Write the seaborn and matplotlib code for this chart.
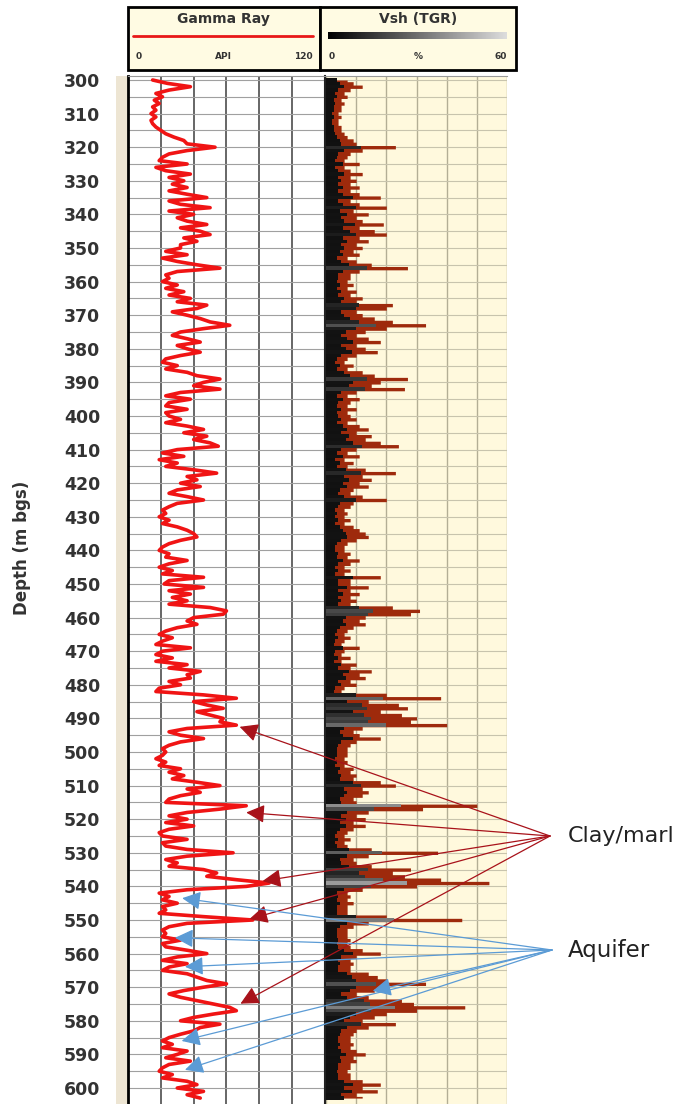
import numpy as np
import pandas as pd
import matplotlib
matplotlib.use("Agg")
import matplotlib.pyplot as plt
import seaborn as sns
from matplotlib.colors import LinearSegmentedColormap
from matplotlib.patches import Rectangle, ConnectionPatch
from matplotlib.ticker import MultipleLocator

# ---------------- data ----------------
depth = list(range(300, 604))

gamma_ray = [
    15, 24, 38, 25, 17, 21, 16, 19, 15, 17,
    14, 17, 14, 15, 17, 20, 23, 28, 34, 36,
    53, 36, 25, 21, 19, 36, 17, 23, 38, 25,
    34, 27, 36, 25, 36, 48, 25, 32, 50, 25,
    40, 30, 36, 48, 32, 44, 50, 34, 42, 32,
    32, 23, 36, 21, 30, 42, 56, 30, 23, 25,
    21, 30, 23, 34, 25, 38, 30, 48, 42, 27,
    36, 44, 50, 62, 46, 32, 27, 36, 44, 30,
    36, 44, 32, 23, 21, 30, 23, 36, 42, 56,
    46, 40, 56, 32, 23, 38, 25, 23, 36, 23,
    25, 32, 23, 36, 46, 34, 48, 40, 50, 55,
    30, 21, 34, 19, 30, 23, 40, 54, 36, 42,
    32, 44, 30, 25, 36, 46, 30, 25, 21, 23,
    19, 25, 21, 30, 36, 40, 42, 32, 25, 21,
    19, 25, 23, 36, 25, 19, 27, 21, 46, 25,
    22, 46, 25, 38, 27, 36, 25, 50, 60, 58,
    40, 36, 42, 30, 23, 19, 27, 21, 17, 38,
    21, 17, 27, 17, 36, 25, 44, 36, 38, 25,
    32, 19, 17, 46, 66, 40, 48, 58, 42, 50,
    58, 56, 66, 36, 25, 32, 46, 32, 25, 21,
    23, 21, 17, 23, 19, 32, 25, 34, 27, 42,
    56, 36, 44, 32, 25, 23, 72, 56, 36, 25,
    36, 23, 40, 25, 19, 21, 36, 21, 23, 36,
    64, 36, 23, 30, 25, 46, 54, 48, 66, 86,
    72, 36, 19, 25, 21, 30, 21, 23, 19, 46,
    76, 36, 25, 21, 23, 21, 32, 21, 23, 36,
    48, 30, 21, 36, 25, 21, 36, 42, 48, 60,
    46, 34, 25, 32, 42, 52, 62, 66, 52, 40,
    32, 56, 44, 40, 32, 25, 21, 27, 21, 36,
    30, 23, 38, 25, 21, 19, 27, 21, 36, 42,
    30, 46, 36, 44,
]

vsh = [
    7, 9, 12, 8, 6, 7, 5, 6, 5, 5,
    4, 5, 4, 4, 5, 5, 6, 7, 9, 10,
    23, 12, 8, 7, 6, 11, 6, 8, 12, 8,
    10, 8, 11, 8, 11, 18, 8, 11, 20, 9,
    14, 10, 12, 19, 11, 16, 20, 11, 14, 10,
    12, 9, 11, 7, 10, 15, 27, 11, 8, 8,
    7, 9, 7, 10, 8, 12, 10, 22, 20, 10,
    12, 16, 22, 33, 20, 13, 10, 14, 18, 10,
    13, 17, 10, 7, 6, 9, 7, 12, 16, 27,
    18, 15, 26, 10, 7, 11, 8, 7, 10, 7,
    8, 10, 7, 11, 14, 10, 15, 13, 18, 24,
    10, 7, 11, 6, 9, 7, 13, 23, 12, 15,
    11, 14, 9, 8, 12, 20, 9, 8, 6, 7,
    6, 8, 6, 9, 11, 13, 14, 10, 7, 6,
    6, 8, 7, 11, 8, 6, 8, 6, 18, 8,
    8, 14, 8, 11, 8, 10, 8, 22, 31, 28,
    13, 11, 13, 9, 7, 6, 8, 6, 5, 11,
    6, 5, 8, 5, 10, 8, 15, 11, 13, 8,
    10, 6, 5, 20, 38, 14, 24, 27, 18, 25,
    30, 28, 40, 12, 9, 11, 18, 10, 8, 7,
    7, 7, 6, 7, 6, 9, 8, 10, 9, 18,
    23, 12, 14, 12, 9, 10, 50, 32, 14, 10,
    13, 9, 13, 9, 7, 6, 8, 6, 7, 15,
    37, 14, 9, 10, 15, 28, 22, 26, 38, 54,
    30, 12, 7, 8, 7, 9, 7, 7, 7, 20,
    45, 14, 9, 7, 7, 7, 8, 7, 8, 12,
    18, 10, 8, 9, 8, 8, 14, 17, 20, 33,
    20, 16, 10, 14, 25, 29, 46, 30, 20, 16,
    12, 23, 14, 10, 9, 8, 8, 9, 8, 10,
    13, 9, 10, 8, 8, 7, 8, 8, 12, 18,
    12, 17, 10, 12,
]

depth_ticks = list(range(300, 601, 10))
gr_ticks = [0, 20, 40, 60, 80, 100, 120]
vsh_ticks = [0, 10, 20, 30, 40, 50, 60]

clay_depth = [492.5, 518.0, 538.4, 549.7, 574.9]
clay_api = [68.0, 72.0, 82.0, 74.0, 68.5]
aquifer_depth = [543.5, 555.3, 563.9, 586.0, 594.6]
aquifer_api = [33.0, 28.6, 34.7, 32.7, 34.7]
aquifer_vsh_depth = [571.1]
aquifer_vsh_value = [15.5]

# ---------------- style ----------------
sns.set_theme(style="white")
plt.rcParams["font.family"] = ["DejaVu Sans"]

W, H = 698, 1104
fig = plt.figure(figsize=(W / 100, H / 100), dpi=100)
fig.patch.set_facecolor("white")


def fx(px):
    return px / W


def fy(py):
    return 1 - py / H


top_px = 76
d_top = 300 + (top_px - 80) / 3.36
d_bot = 300 + (H - 80) / 3.36
track_h = fy(top_px)

# beige depth strip
fig.add_artist(Rectangle((fx(116), 0), fx(128) - fx(116), track_h,
                         transform=fig.transFigure, facecolor="#EDE5D3",
                         edgecolor="none", zorder=0))

# ---------------- Gamma ray track ----------------
ax_gr = fig.add_axes([fx(128), 0, fx(325) - fx(128), track_h])
ax_gr.set_facecolor("white")
df = pd.DataFrame({"depth": depth, "gr": gamma_ray})
sns.lineplot(data=df, x="gr", y="depth", orient="y", estimator=None,
             color="#F01414", lw=2.6, ax=ax_gr, zorder=3)
ax_gr.set_xlim(0, 120)
ax_gr.set_ylim(d_bot, d_top)
ax_gr.set_xticks(gr_ticks)
ax_gr.set_xticklabels([])
ax_gr.set_yticks(depth_ticks)
ax_gr.yaxis.set_minor_locator(MultipleLocator(5))
ax_gr.set_yticklabels([str(d) for d in depth_ticks], fontsize=12.5,
                      fontweight="bold", color="#333333")
ax_gr.tick_params(axis="both", which="both", length=0)
ax_gr.tick_params(axis="y", pad=20)
ax_gr.set_axisbelow(True)
ax_gr.xaxis.grid(True, color="#5a5a5a", lw=1.3)
ax_gr.yaxis.grid(True, which="both", color="#a0a0a0", lw=0.8)
ax_gr.set_xlabel("")
ax_gr.set_ylabel("")
ax_gr.spines["bottom"].set_visible(False)
ax_gr.spines["left"].set_color("black")
ax_gr.spines["left"].set_linewidth(2.0)
ax_gr.spines["right"].set_color("#222222")
ax_gr.spines["right"].set_linewidth(1.5)
ax_gr.spines["top"].set_color("#999999")
ax_gr.spines["top"].set_linewidth(0.8)

# ---------------- Vsh track ----------------
ax_v = fig.add_axes([fx(326), 0, fx(507) - fx(326), track_h])
ax_v.set_facecolor("#FFF9DD")
ax_v.fill_betweenx(depth, 0, vsh, step="mid", color="#9E2A0C", lw=0, zorder=2)
core_cmap = LinearSegmentedColormap.from_list(
    "core", [(0, "#0d0d0d"), (0.3, "#141414"), (0.55, "#505050"),
             (0.9, "#9a9a9a"), (1.0, "#b5b5b5")])
core_w = [0.5 * v for v in vsh]
ax_v.barh(depth, core_w, height=1.0, left=0,
          color=[core_cmap(min(v / 60, 1)) for v in vsh], lw=0, zorder=3)
ax_v.set_xlim(0, 60)
ax_v.set_ylim(d_bot, d_top)
ax_v.set_xticks(vsh_ticks)
ax_v.set_xticklabels([])
ax_v.set_yticks(depth_ticks)
ax_v.yaxis.set_minor_locator(MultipleLocator(5))
ax_v.set_yticklabels([])
ax_v.tick_params(axis="both", which="both", length=0)
ax_v.set_axisbelow(True)
ax_v.xaxis.grid(True, color="#b3ae95", lw=1.0)
ax_v.yaxis.grid(True, which="both", color="#c8c4ad", lw=0.8)
for s in ["bottom", "left", "right"]:
    ax_v.spines[s].set_visible(False)
ax_v.spines["top"].set_color("#999999")
ax_v.spines["top"].set_linewidth(0.8)

# ---------------- header ----------------
ax_h = fig.add_axes([fx(126), fy(72), fx(518) - fx(126), fy(4) - fy(72)])
ax_h.axis("off")
grad_cmap = LinearSegmentedColormap.from_list("grad", ["#000000", "#dddddd"])
ax_h.imshow(np.linspace(0, 1, 256)[None, :], extent=(328, 507, 39.5, 32.5),
            cmap=grad_cmap, aspect="auto", zorder=3)
ax_h.set_xlim(126, 518)
ax_h.set_ylim(72, 4)
ax_h.add_patch(Rectangle((127.5, 6.5), 192.5, 63.5, facecolor="#FFFBE3",
                         edgecolor="black", lw=2, zorder=1))
ax_h.add_patch(Rectangle((320, 6.5), 196, 63.5, facecolor="#FFFBE3",
                         edgecolor="black", lw=2, zorder=1))
ax_h.text(223.5, 19, "Gamma Ray", ha="center", va="center", fontsize=10,
          fontweight="bold", color="#333333", zorder=4)
ax_h.plot([133, 313], [36, 36], color="#E81818", lw=2, zorder=4)
ax_h.text(136, 56.5, "0", ha="left", va="center", fontsize=6.5,
          fontweight="bold", color="#333333", zorder=4)
ax_h.text(223, 56.5, "API", ha="center", va="center", fontsize=6.5,
          fontweight="bold", color="#333333", zorder=4)
ax_h.text(313, 56.5, "120", ha="right", va="center", fontsize=6.5,
          fontweight="bold", color="#333333", zorder=4)
ax_h.text(418, 19, "Vsh (TGR)", ha="center", va="center", fontsize=10,
          fontweight="bold", color="#333333", zorder=4)
ax_h.text(329, 56.5, "0", ha="left", va="center", fontsize=6.5,
          fontweight="bold", color="#333333", zorder=4)
ax_h.text(418, 56.5, "%", ha="center", va="center", fontsize=6.5,
          fontweight="bold", color="#333333", zorder=4)
ax_h.text(507, 56.5, "60", ha="right", va="center", fontsize=6.5,
          fontweight="bold", color="#333333", zorder=4)

# ---------------- labels ----------------
fig.text(fx(22), fy(548), "Depth (m bgs)", rotation=90, ha="center",
         va="center", fontsize=12, fontweight="bold", color="#333333")

clay_src = (fx(550), fy(836))
aq_src = (fx(552), fy(950))
fig.text(fx(568), fy(836), "Clay/marl", ha="left", va="center",
         fontsize=16, color="#222222")
fig.text(fx(568), fy(950), "Aquifer", ha="left", va="center",
         fontsize=16.5, color="#222222")

arrow_style = "-|>,head_length=0.7,head_width=0.35"
for d, v in zip(clay_depth, clay_api):
    con = ConnectionPatch(xyA=clay_src, coordsA=fig.transFigure,
                          xyB=(v, d), coordsB=ax_gr.transData,
                          arrowstyle=arrow_style, color="#A8121A", lw=0.9,
                          mutation_scale=16, shrinkA=0, shrinkB=0, zorder=10)
    fig.add_artist(con)
for d, v in zip(aquifer_depth, aquifer_api):
    con = ConnectionPatch(xyA=aq_src, coordsA=fig.transFigure,
                          xyB=(v, d), coordsB=ax_gr.transData,
                          arrowstyle=arrow_style, color="#5B9BD5", lw=0.9,
                          mutation_scale=16, shrinkA=0, shrinkB=0, zorder=10)
    fig.add_artist(con)
for d, v in zip(aquifer_vsh_depth, aquifer_vsh_value):
    con = ConnectionPatch(xyA=aq_src, coordsA=fig.transFigure,
                          xyB=(v, d), coordsB=ax_v.transData,
                          arrowstyle=arrow_style, color="#5B9BD5", lw=0.9,
                          mutation_scale=16, shrinkA=0, shrinkB=0, zorder=10)
    fig.add_artist(con)

fig.savefig("out.png", dpi=100)
